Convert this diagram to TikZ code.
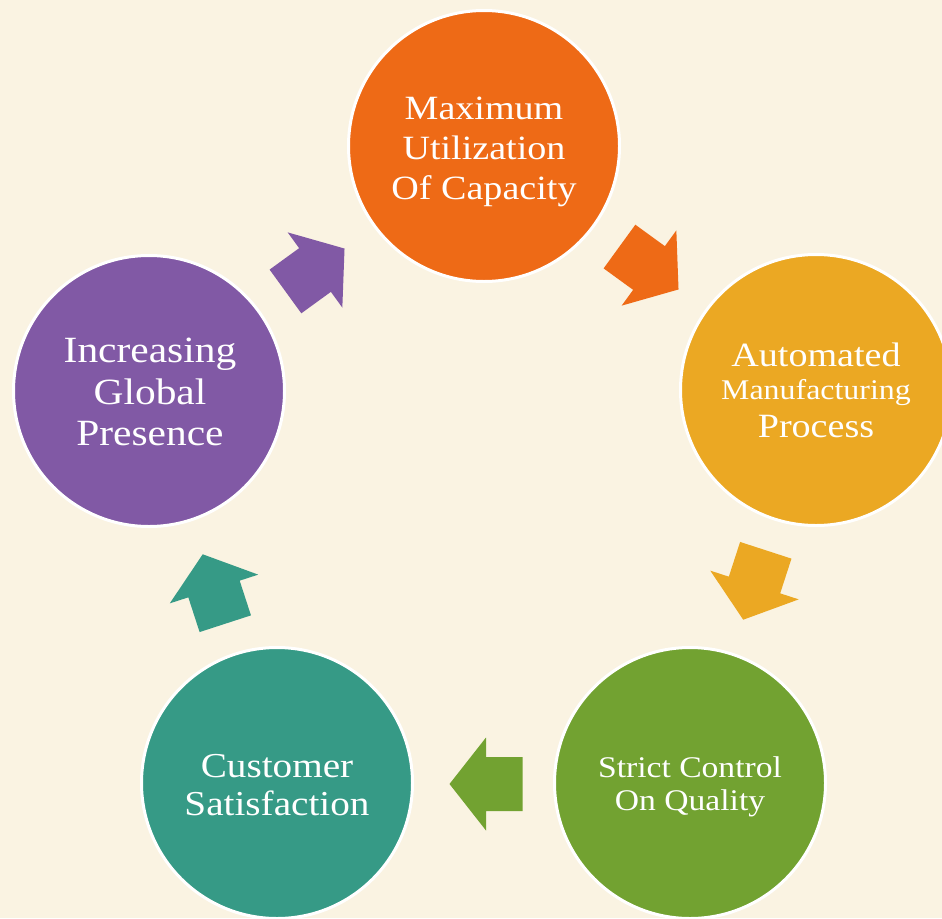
\documentclass[tikz,border=0pt]{standalone}
\usepackage{fontspec}
\setmainfont{Liberation Serif}[FakeStretch=1.12]
\definecolor{bgc}{HTML}{FAF3E2}
\definecolor{orangec}{HTML}{EE6A16}
\definecolor{yellowc}{HTML}{EBA823}
\definecolor{greenc}{HTML}{72A231}
\definecolor{tealc}{HTML}{369A86}
\definecolor{purplec}{HTML}{8159A5}
\tikzset{
  circ/.style={circle, draw=white, line width=3pt, minimum size=271pt, inner sep=0pt,
    text=white, align=center, font=\fontsize{34}{40}\selectfont},
  txt/.style={text=white, align=center, inner sep=0pt},
  blockarrow/.pic={
    \fill[pic actions] (-36.5,-27) -- (0,-27) -- (0,-46.5) -- (36.5,0) -- (0,46.5) -- (0,27) -- (-36.5,27) -- cycle;
  }
}
\begin{document}
\begin{tikzpicture}[x=1pt,y=-1pt]
\fill[bgc] (0,0) rectangle (942,918);
\useasboundingbox (0,0) rectangle (942,918);
\node[circ, fill=orangec] (max) at (484,146) {};
\node[txt, font=\fontsize{34}{40}\selectfont] (maxt) at (484,152) {Maximum\\Utilization\\Of Capacity};
\node[circ, fill=yellowc] (auto) at (816,390) {Automated\\[-7pt]{\fontsize{28.5}{33}\selectfont Manufacturing}\\[-2pt]Process};
\node[circ, fill=greenc] (qual) at (690,783) {};
\node[txt, font=\fontsize{30}{33}\selectfont] (qualt) at (690,787) {Strict Control\\On Quality};
\node[circ, fill=tealc] (cust) at (277,783) {};
\node[txt, font=\fontsize{35}{38}\selectfont] (custt) at (277,785) {Customer\\Satisfaction};
\node[circ, fill=purplec] (glob) at (149,391) {};
\node[txt, font=\fontsize{37}{41.5}\selectfont] (globt) at (150,392) {Increasing\\Global\\Presence};
\pic[fill=orangec, rotate=-36] (a1) at (649,268) {blockarrow};
\pic[fill=yellowc, rotate=-108] (a2) at (754.5,585) {blockarrow};
\pic[fill=greenc, rotate=180] (a3) at (486,784) {blockarrow};
\pic[fill=tealc, rotate=108] (a4) at (214,589) {blockarrow};
\pic[fill=purplec, rotate=36] (a5) at (315,270) {blockarrow};
\end{tikzpicture}
\end{document}
